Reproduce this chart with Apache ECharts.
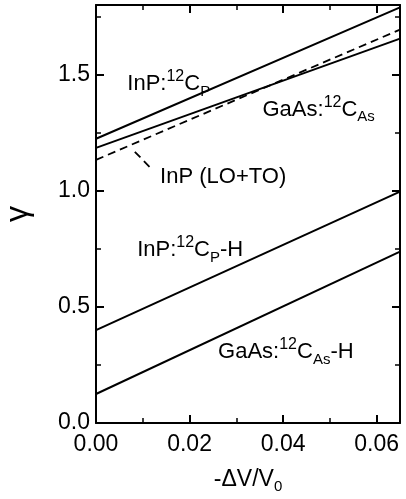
<!DOCTYPE html>
<html>
<head>
<meta charset="utf-8">
<script src="https://cdn.jsdelivr.net/npm/echarts@6/dist/echarts.min.js"></script>
<style>
html,body{margin:0;padding:0;background:#fff;}
#chart{width:406px;height:499px;}
</style>
</head>
<body>
<div id="chart"></div>
<script>
// -dV/V0 end points, lines are straight
var xs = [0, 0.065];
var inpC = [1.224, 1.79];
var gaasC = [1.185, 1.655];
var inpLoTo = [1.133, 1.694];
var inpCH = [0.40, 0.996];
var gaasCH = [0.125, 0.738];
// little dashed pointer to the (LO+TO) label
var pointerX = [0.0083, 0.0116];
var pointerY = [1.168, 1.10];

var labelFont = 'Liberation Sans';

function pairs(x, y) {
	return x.map(function (v, i) { return [v, y[i]]; });
}

var chart = echarts.init(document.getElementById('chart'));

var lineStyle = { color: '#000', width: 2 };

function mkLine(name, data, dashed) {
	return {
		name: name,
		type: 'line',
		data: data,
		symbol: 'none',
		silent: true,
		lineStyle: {
			color: '#000',
			width: dashed ? 1.8 : 2,
			type: dashed ? [8, 5] : 'solid'
		}
	};
}

var rich = {
	b: { fontSize: 22, fontFamily: labelFont, color: '#000', lineHeight: 30 },
	sup: { fontSize: 16, fontFamily: labelFont, color: '#000', verticalAlign: 'top', lineHeight: 15 },
	sub: { fontSize: 15, fontFamily: labelFont, color: '#000', verticalAlign: 'bottom', lineHeight: 14 }
};

// text labels, anchored in data coords (left / middle)
var notes = [
	{ at: [0.0067, 1.46], text: '{b|InP:}{sup|12}{b|C}{sub|P}' },
	{ at: [0.0356, 1.35], text: '{b|GaAs:}{sup|12}{b|C}{sub|As}' },
	{ at: [0.0137, 1.06], text: '{b|InP (LO+TO)}' },
	{ at: [0.0088, 0.745], text: '{b|InP:}{sup|12}{b|C}{sub|P}{b|-H}' },
	{ at: [0.0261, 0.306], text: '{b|GaAs:}{sup|12}{b|C}{sub|As}{b|-H}' }
];

var xAxisBase = {
	type: 'value',
	min: 0,
	max: 0.065,
	interval: 0.02,
	axisLine: { show: true, onZero: false, lineStyle: lineStyle },
	axisTick: { show: true, inside: true, length: 8, lineStyle: lineStyle },
	minorTick: { show: true, splitNumber: 2, length: 5, lineStyle: { color: '#000', width: 1.5 } },
	splitLine: { show: false }
};
var yAxisBase = {
	type: 'value',
	min: 0,
	max: 1.8,
	interval: 0.5,
	axisLine: { show: true, onZero: false, lineStyle: lineStyle },
	axisTick: { show: true, inside: true, length: 8, lineStyle: lineStyle },
	minorTick: { show: true, splitNumber: 2, length: 5, lineStyle: { color: '#000', width: 1.5 } },
	splitLine: { show: false }
};

var option = {
	backgroundColor: '#fff',
	animation: false,
	grid: { left: 96, right: 6, top: 5, bottom: 76, containLabel: false, outerBoundsMode: 'none' },
	xAxis: [
		Object.assign({}, xAxisBase, {
			position: 'bottom',
			name: '{t|-ΔV/V}{s|0}',
			nameLocation: 'middle',
			nameGap: 43,
			nameTextStyle: {
				rich: {
					t: { fontSize: 23, fontFamily: labelFont, color: '#000', lineHeight: 28 },
					s: { fontSize: 15, fontFamily: labelFont, color: '#000', verticalAlign: 'bottom', lineHeight: 12 }
				}
			},
			axisLabel: {
				show: true,
				margin: 10,
				fontSize: 23,
				fontFamily: labelFont,
				color: '#000',
				showMaxLabel: false,
				formatter: function (v) { return v.toFixed(2); }
			}
		}),
		Object.assign({}, xAxisBase, {
			position: 'top',
			axisLabel: { show: false }
		})
	],
	yAxis: [
		Object.assign({}, yAxisBase, {
			position: 'left',
			name: 'γ',
			nameLocation: 'middle',
			nameGap: 62,
			nameTextStyle: { fontSize: 32, fontFamily: labelFont, color: '#000' },
			axisLabel: {
				show: true,
				margin: 6,
				fontSize: 23,
				fontFamily: labelFont,
				color: '#000',
				showMaxLabel: false,
				formatter: function (v) { return v.toFixed(1); }
			}
		}),
		Object.assign({}, yAxisBase, {
			position: 'right',
			axisLabel: { show: false }
		})
	],
	series: [
		mkLine('InP:12C_P', pairs(xs, inpC), false),
		mkLine('GaAs:12C_As', pairs(xs, gaasC), false),
		mkLine('InP (LO+TO)', pairs(xs, inpLoTo), true),
		mkLine('pointer', pairs(pointerX, pointerY), true),
		mkLine('InP:12C_P-H', pairs(xs, inpCH), false),
		mkLine('GaAs:12C_As-H', pairs(xs, gaasCH), false),
		{
			type: 'scatter',
			symbolSize: 0,
			silent: true,
			itemStyle: { opacity: 1 },
			data: notes.map(function (n) {
				return {
					value: n.at,
					label: {
						show: true,
						position: 'right',
						distance: 0,
						color: '#000',
						textBorderWidth: 0,
						formatter: n.text,
						rich: rich
					}
				};
			})
		}
	]
};

chart.setOption(option);
</script>
</body>
</html>
